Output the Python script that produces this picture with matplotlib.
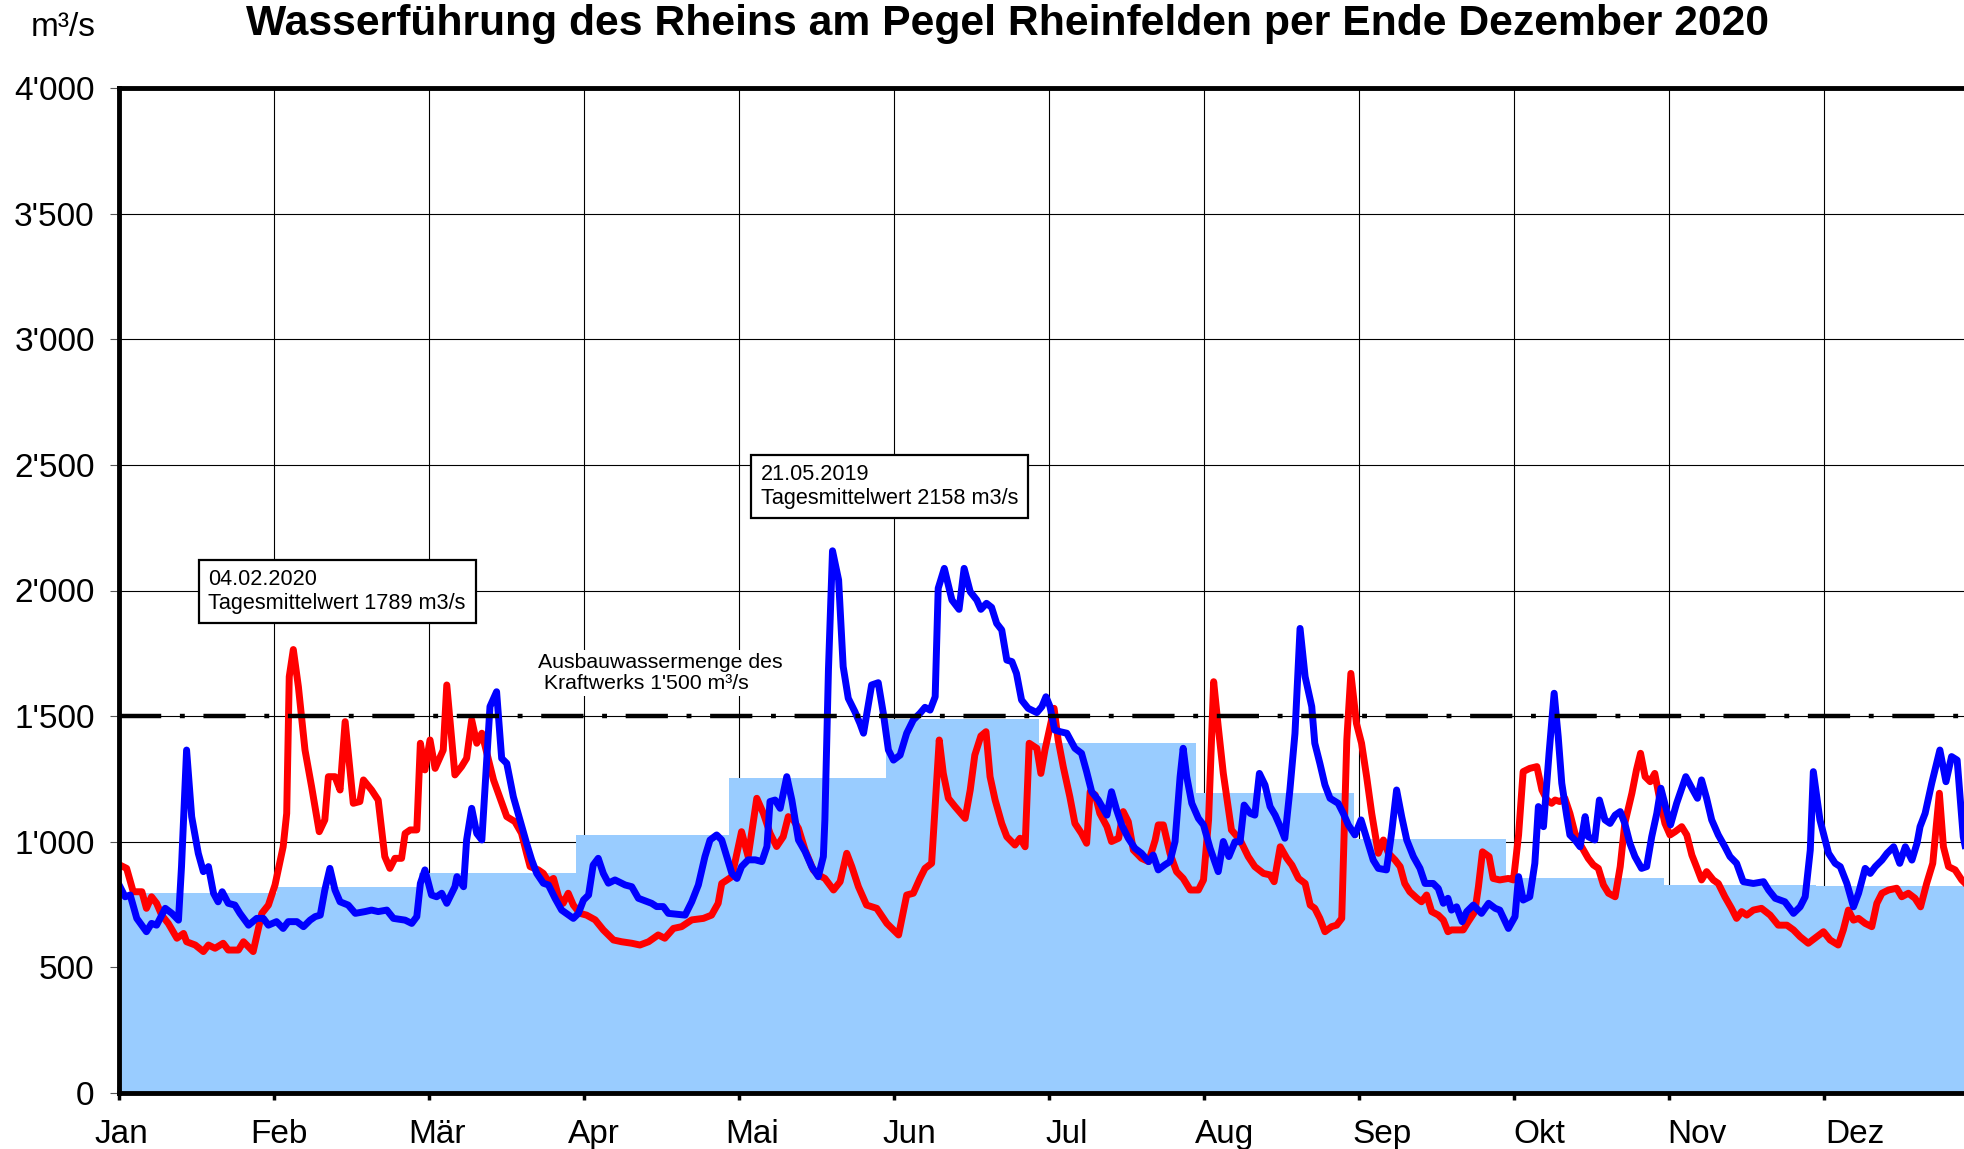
# Wasserfuehrung Rhein, Pegel Rheinfelden - Tagesmittel 2020 / 2019 vs. Monatsmittel
import matplotlib.pyplot as plt
import numpy as np

plt.rcParams['font.family'] = ['Liberation Sans', 'DejaVu Sans']

months = ['Jan', 'Feb', 'Mär', 'Apr', 'Mai', 'Jun', 'Jul', 'Aug', 'Sep', 'Okt', 'Nov', 'Dez']
# long-term monthly means (m3/s) and month boundaries (day of year)
month_mean = [795, 821, 877, 1027, 1255, 1490, 1395, 1193, 1010, 854, 828, 824]
month_start = [0, 31, 59, 90, 120, 151, 181, 212, 243, 273, 304, 334, 365]

red_day = [0.2, 1.5, 2.8, 4.5, 5.4, 6.4, 7.4, 8.4, 9.7, 11.4, 12.7, 13.3, 15.0, 16.6, 17.6, 18.9,
           20.5, 21.5, 23.5, 24.5, 26.4, 28.1, 29.4, 30.7, 32.3, 33.0, 33.5, 34.3, 35.3, 36.6, 37.9,
           39.4, 40.5, 41.2, 42.5, 43.5, 44.5, 46.1, 47.4, 48.1, 49.7, 51.0, 52.3, 53.3, 54.3, 55.6,
           56.3, 57.3, 58.6, 59.3, 60.2, 61.2, 62.2, 63.8, 64.5, 66.1, 67.4, 68.4, 69.4, 70.4, 71.4,
           73.7, 76.3, 77.9, 79.2, 80.2, 80.9, 82.5, 83.5, 84.5, 85.5, 86.5, 87.4, 88.4, 89.4, 90.7,
           92.0, 93.7, 95.3, 97.3, 98.9, 100.9, 102.5, 104.2, 106.1, 107.4, 109.1, 110.7, 112.7, 115.0,
           116.6, 117.9, 118.6, 120.6, 122.5, 123.8, 125.5, 126.8, 128.1, 129.4, 130.7, 131.7, 132.7,
           133.7, 135.0, 136.6, 137.6, 138.9, 140.6, 141.9, 143.2, 144.2, 145.5, 147.1, 149.1, 151.1,
           153.4, 155.0, 156.3, 157.6, 158.6, 159.9, 161.4, 162.2, 163.2, 164.5, 166.5, 167.5, 168.4,
           169.6, 170.6, 171.4, 172.4, 173.7, 174.7, 176.3, 177.3, 178.3, 179.1, 180.6, 181.4, 182.2,
           184.0, 184.8, 185.8, 187.1, 188.1, 189.4, 190.4, 191.1, 192.1, 193.0, 194.4, 195.3, 196.7,
           197.6, 198.6, 199.6, 201.2, 202.6, 203.9, 204.5, 205.5, 206.8, 208.1, 209.4, 210.8, 212.4,
           213.4, 214.4, 215.4, 216.3, 217.3, 218.9, 220.6, 222.2, 223.5, 225.2, 226.5, 227.3, 228.5,
           229.8, 230.8, 232.1, 233.4, 234.4, 235.3, 236.3, 237.3, 238.6, 239.6, 240.6, 241.6, 242.4,
           243.5, 244.5, 245.5, 246.5, 247.8, 248.8, 249.8, 251.1, 252.1, 253.0, 254.0, 255.4, 256.3,
           257.3, 258.3, 259.6, 260.6, 261.5, 262.2, 264.5, 265.5, 266.8, 267.5, 268.3, 269.6, 270.4,
           271.7, 273.4, 274.4, 275.4, 276.3, 277.6, 279.0, 280.0, 281.0, 281.9, 282.6, 283.5, 284.5,
           285.5, 286.5, 287.8, 289.1, 290.1, 291.1, 292.1, 293.1, 294.4, 295.4, 296.3, 297.7, 298.6,
           299.4, 300.3, 301.3, 302.2, 303.2, 304.2, 305.2, 306.2, 307.5, 308.5, 309.5, 310.4, 311.4,
           312.4, 313.7, 314.7, 316.0, 317.3, 318.3, 319.3, 320.3, 321.6, 323.2, 324.9, 326.5, 328.2,
           329.5, 330.8, 332.4, 333.7, 335.4, 336.7, 338.3, 339.3, 340.3, 341.3, 342.3, 343.6, 344.9,
           345.9, 346.9, 348.2, 349.8, 350.8, 352.1, 353.4, 354.5, 355.7, 356.9, 358.2, 359.0, 360.0,
           361.3, 362.6, 363.3]
red_q = [907, 894, 801, 801, 735, 781, 755, 708, 675, 616, 635, 602, 589, 563, 589, 576,
         596, 569, 569, 602, 563, 715, 748, 828, 980, 1113, 1657, 1765, 1617, 1365, 1219,
         1040, 1087, 1259, 1259, 1206, 1478, 1153, 1160, 1246, 1206, 1166, 941, 894, 934, 934,
         1033, 1047, 1047, 1392, 1286, 1405, 1292, 1365, 1624, 1266, 1299, 1332, 1485, 1392, 1432,
         1246, 1100, 1080, 1034, 954, 901, 888, 874, 841, 854, 781, 755, 795, 748, 715,
         708, 689, 649, 609, 602, 596, 589, 602, 629, 616, 655, 662, 689, 695,
         708, 755, 834, 861, 1040, 941, 1173, 1113, 1034, 981, 1020, 1100, 1087,
         1053, 967, 888, 868, 854, 808, 841, 954, 901, 821, 748, 735, 675,
         629, 788, 795, 854, 894, 914, 1405, 1272, 1173, 1140, 1093, 1206, 1345,
         1421, 1438, 1259, 1166, 1073, 1020, 987, 1014, 980, 1392, 1372, 1272, 1365,
         1531, 1405, 1299, 1179, 1073, 1033, 994, 1199, 1186, 1113, 1060, 1001, 1014,
         1120, 1080, 967, 934, 921, 1007, 1067, 1067, 954, 881, 854, 808, 808,
         848, 1087, 1637, 1458, 1272, 1047, 1007, 941, 901, 874, 868, 841, 980,
         934, 907, 854, 834, 748, 735, 695, 642, 662, 668, 695, 1405, 1670,
         1471, 1392, 1259, 1113, 954, 1007, 954, 927, 901, 834, 801, 775, 761,
         788, 722, 708, 688, 642, 649, 649, 682, 722, 821, 960, 941, 854,
         848, 854, 848, 1027, 1279, 1292, 1299, 1206, 1166, 1153, 1166, 1160, 1173,
         1113, 1034, 980, 934, 908, 894, 828, 795, 781, 901, 1073, 1193, 1286,
         1352, 1259, 1239, 1272, 1166, 1073, 1027, 1040, 1060, 1027, 947, 901, 848,
         881, 848, 834, 781, 735, 695, 722, 708, 728, 735, 708, 668, 668,
         649, 622, 596, 616, 642, 609, 589, 649, 728, 688, 695, 675, 662,
         755, 795, 808, 815, 781, 795, 775, 741, 834, 914, 1193, 980, 901,
         888, 848, 834]

# 2019 daily means (blue)
blue_day = [0.2, 1.2, 2.2, 3.5, 5.4, 6.4, 7.4, 9.1, 10.4, 11.7, 12.3, 13.3, 14.3, 15.6, 16.6, 17.6,
            18.6, 19.5, 20.3, 21.5, 22.8, 23.8, 25.5, 27.1, 28.4, 29.4, 31.0, 32.3, 33.3, 35.0, 36.3,
            37.6, 38.6, 39.6, 40.5, 41.5, 42.5, 43.5, 45.1, 46.5, 48.4, 49.7, 51.0, 52.7, 54.0, 56.3,
            57.6, 58.6, 59.3, 60.2, 61.5, 62.5, 63.5, 64.5, 66.1, 66.5, 67.8, 68.4, 69.4, 70.4, 71.4,
            73.0, 74.3, 75.3, 76.3, 77.6, 78.9, 80.2, 81.2, 82.2, 83.5, 84.5, 85.8, 87.1, 89.4, 90.4,
            91.4, 92.4, 93.3, 94.3, 95.3, 96.3, 97.6, 99.6, 100.9, 102.2, 104.8, 105.8, 107.1, 108.1,
            111.4, 112.7, 114.0, 115.3, 116.3, 117.6, 118.6, 119.6, 120.6, 121.6, 122.5, 123.8, 125.2,
            126.5, 127.5, 128.1, 129.1, 130.1, 131.4, 132.4, 133.7, 135.0, 136.3, 137.6, 138.6, 138.9,
            139.6, 140.4, 141.6, 142.5, 143.5, 144.8, 145.8, 146.5, 148.1, 149.4, 150.4, 151.4, 152.4,
            153.7, 155.0, 156.3, 157.6, 158.6, 159.6, 160.6, 161.2, 162.4, 163.9, 165.3, 166.3, 167.5,
            168.8, 169.6, 170.7, 171.7, 172.7, 173.7, 174.7, 175.7, 176.6, 177.6, 178.9, 180.6, 181.6,
            182.4, 183.2, 184.1, 185.2, 186.5, 188.1, 189.4, 190.4, 191.4, 192.7, 194.4, 195.3, 196.3,
            197.3, 198.6, 199.9, 201.2, 202.6, 203.5, 204.5, 205.8, 206.8, 207.8, 208.8, 209.4, 210.1,
            211.1, 212.4, 213.4, 214.7, 216.3, 217.3, 218.4, 219.6, 220.6, 221.4, 222.6, 223.5, 224.4,
            225.5, 226.5, 227.5, 228.5, 229.4, 230.4, 231.4, 232.4, 233.4, 234.7, 235.3, 236.3, 237.3,
            238.3, 239.9, 240.9, 241.9, 243.2, 244.4, 245.5, 246.8, 247.8, 249.4, 250.4, 251.4, 252.4,
            253.4, 254.7, 256.0, 257.0, 258.6, 259.6, 260.6, 261.5, 262.2, 263.2, 264.3, 265.2, 266.5,
            268.1, 269.5, 270.8, 271.7, 273.4, 274.7, 275.4, 276.3, 277.6, 278.6, 279.3, 280.3, 281.4,
            282.4, 283.2, 283.9, 284.9, 285.5, 286.5, 287.5, 288.5, 289.1, 290.4, 291.3, 292.4, 293.4,
            294.4, 295.4, 296.3, 297.3, 298.3, 299.6, 300.6, 301.6, 302.6, 303.4, 304.5, 305.3, 306.5,
            308.3, 309.7, 310.6, 311.4, 312.4, 313.4, 314.7, 316.0, 317.0, 318.3, 319.6, 321.6, 323.6,
            324.6, 325.9, 327.8, 329.5, 330.8, 331.8, 332.8, 333.4, 334.7, 336.4, 337.7, 338.7, 340.0,
            341.3, 342.3, 343.6, 344.6, 345.6, 346.9, 347.9, 349.2, 350.4, 351.5, 352.8, 353.8, 354.4,
            355.4, 356.7, 358.3, 359.5, 360.6, 361.7, 362.9, 363.3]
blue_q = [821, 781, 788, 695, 642, 675, 668, 735, 715, 688, 901, 1365, 1100, 954, 881, 901,
          795, 761, 801, 755, 748, 715, 668, 695, 695, 668, 682, 655, 682, 682, 662,
          688, 702, 708, 808, 894, 808, 761, 748, 715, 722, 728, 722, 728, 695, 688,
          675, 702, 834, 888, 788, 781, 795, 755, 821, 861, 821, 1007, 1133, 1033, 1007,
          1538, 1597, 1332, 1312, 1179, 1087, 994, 928, 874, 835, 828, 775, 728, 695, 715,
          768, 788, 907, 934, 874, 835, 848, 828, 821, 775, 755, 742, 742, 715,
          708, 761, 828, 941, 1007, 1027, 1007, 941, 874, 854, 901, 928, 928,
          921, 981, 1160, 1166, 1133, 1259, 1166, 1007, 961, 901, 861, 941, 1087,
          1684, 2158, 2042, 1697, 1571, 1518, 1471, 1432, 1624, 1633, 1511, 1365, 1325,
          1345, 1432, 1485, 1511, 1535, 1524, 1577, 2009, 2088, 1962, 1925, 2088, 1995,
          1962, 1925, 1949, 1933, 1869, 1843, 1723, 1717, 1670, 1564, 1531, 1514, 1538,
          1577, 1538, 1445, 1438, 1432, 1372, 1352, 1279, 1199, 1166, 1106, 1199, 1127,
          1067, 1014, 974, 954, 921, 947, 888, 908, 921, 1001, 1259, 1372, 1259,
          1153, 1093, 1067, 974, 881, 1001, 941, 1000, 1000, 1146, 1113, 1106, 1272,
          1226, 1140, 1106, 1060, 1014, 1206, 1431, 1849, 1657, 1538, 1392, 1312, 1226,
          1173, 1153, 1113, 1067, 1027, 1087, 1014, 927, 894, 888, 1033, 1206, 1100,
          1007, 941, 894, 834, 834, 814, 755, 775, 728, 741, 682, 722, 748,
          715, 755, 735, 728, 655, 702, 861, 768, 781, 914, 1140, 1060, 1352,
          1591, 1418, 1233, 1100, 1027, 1007, 980, 1100, 1020, 1007, 1166, 1087, 1073,
          1106, 1120, 1073, 994, 941, 894, 901, 1020, 1113, 1213, 1126, 1067, 1153,
          1259, 1206, 1173, 1246, 1173, 1087, 1027, 980, 941, 914, 841, 834, 841,
          808, 775, 761, 715, 741, 781, 967, 1279, 1087, 954, 914, 901, 834,
          741, 795, 894, 874, 901, 927, 954, 980, 914, 980, 927, 994, 1060,
          1113, 1233, 1365, 1239, 1339, 1325, 1020, 980]

ausbau = 1500

fig = plt.figure(figsize=(19.65, 11.49), dpi=100)
# plot area runs a little past the right edge of the picture
ax = fig.add_axes([119 / 1965, 56 / 1149, 1860 / 1965, 1005 / 1149])

widths = np.diff(month_start)
ax.bar(month_start[:-1], month_mean, width=widths, align='edge', color='#99CCFF',
       linewidth=0, zorder=2)

ax.plot(red_day, red_q, color='#FF0000', lw=5, zorder=3, solid_joinstyle='round')
ax.plot(blue_day, blue_q, color='#0000FF', lw=5, zorder=4, solid_joinstyle='round')
ax.axhline(ausbau, color='black', lw=3.2, dashes=(9.5, 4.2, 1.1, 4.2), zorder=5)

ax.set_xlim(0, 366)
ax.set_ylim(0, 4000)
xt = np.arange(12) * 30.5
ax.set_xticks(xt, labels=[''] * 12)
# month names sit at a slightly wider spacing than the grid
ax.set_xticks(np.arange(12) * 31 + 0.5, labels=months, minor=True, fontsize=24)
yt = np.arange(0, 4001, 500)
ax.set_yticks(yt)
ax.set_yticklabels([f"{v:,}".replace(',', "'") for v in yt], fontsize=24)
ax.grid(False)
for x in np.arange(1, 13) * 30.5:
    ax.axvline(x, color='black', lw=0.8, zorder=1)
for y in yt[1:]:
    ax.axhline(y, color='black', lw=0.8, zorder=1)

ax.tick_params(axis='x', which='major', direction='inout', length=10, width=2.5)
ax.tick_params(axis='x', which='minor', length=0, pad=19)
ax.tick_params(axis='y', direction='out', length=6.5, width=0.8, color='#555555', pad=11)
for s in ['left', 'top', 'bottom']:
    ax.spines[s].set_linewidth(3.5)
    ax.spines[s].set_zorder(6)
ax.spines['right'].set_visible(False)

box = dict(boxstyle='square,pad=0.45', fc='white', ec='black', lw=1.6)
ax.text(17.6, 1996, '04.02.2020\nTagesmittelwert 1789 m3/s', fontsize=15.6, va='center',
        ha='left', bbox=box, zorder=7, linespacing=1.15)
ax.text(126.3, 2414, '21.05.2019\nTagesmittelwert 2158 m3/s', fontsize=15.6, va='center',
        ha='left', bbox=box, zorder=7, linespacing=1.15)
ax.text(82.5, 1672, 'Ausbauwassermenge des\n Kraftwerks 1\'500 m³/s', fontsize=15.3,
        va='center', ha='left', zorder=7, linespacing=1.15,
        bbox=dict(boxstyle='square,pad=0.15', fc='white', ec='none'))

fig.text(0.5125, 0.9695, 'Wasserführung des Rheins am Pegel Rheinfelden per Ende Dezember 2020',
         fontsize=30.7, fontweight='bold', ha='center', va='baseline')
fig.text(0.032, 0.976, 'm³/s', fontsize=24, ha='center', va='center')

fig.savefig('out.png', dpi=100)
